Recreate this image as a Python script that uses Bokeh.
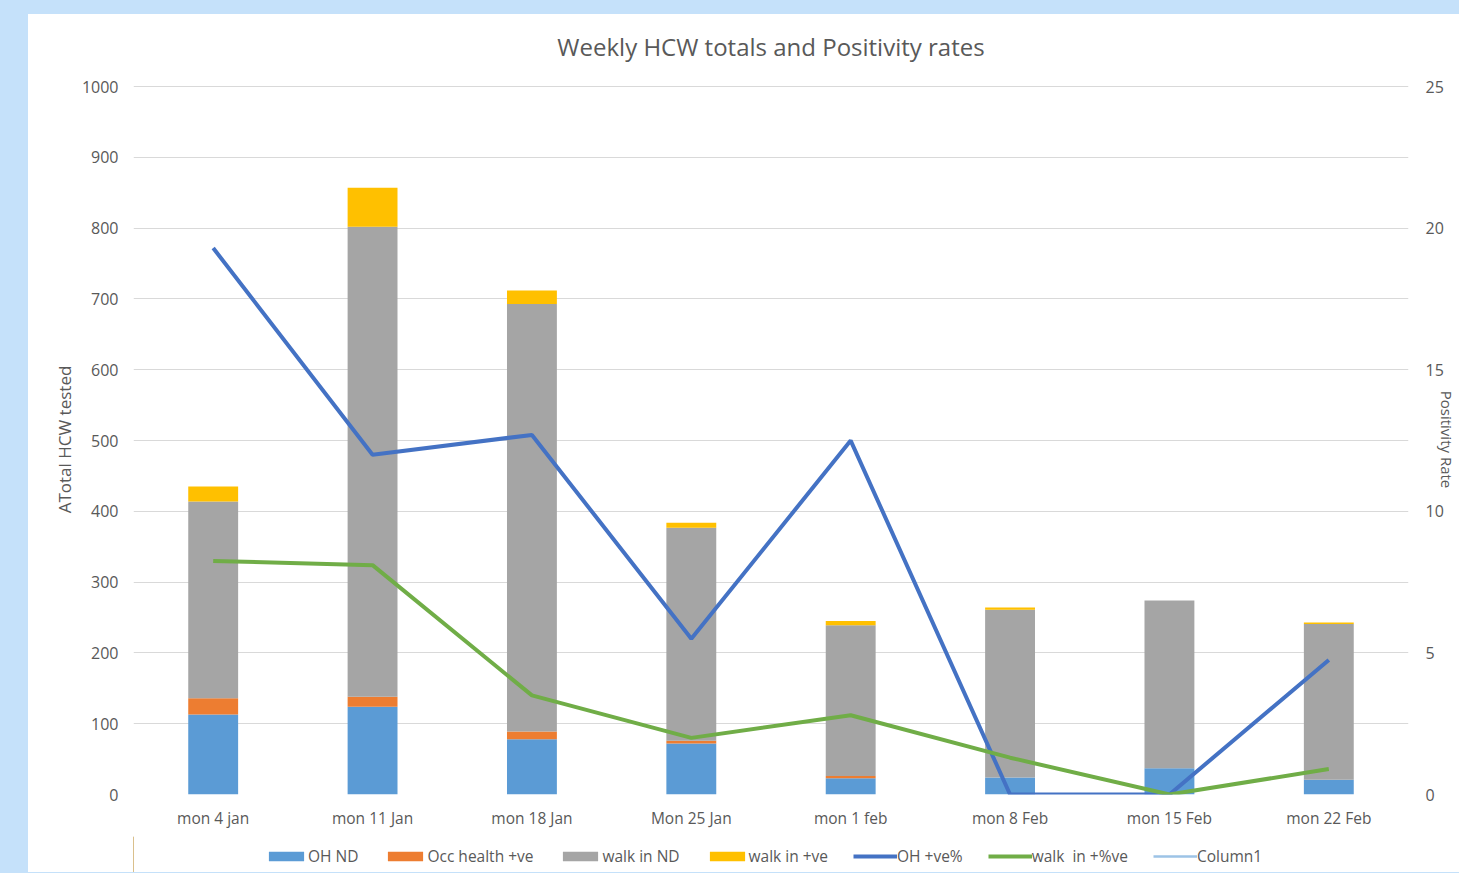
from bokeh.plotting import figure
from bokeh.models import (FactorRange, Range1d, LinearAxis, Legend, LegendItem,
                          ColumnDataSource, SingleIntervalTicker)
from bokeh.layouts import column
from bokeh.embed import file_html
from bokeh.resources import INLINE

weeks = ["mon 4 jan", "mon 11 Jan", "mon 18 Jan", "Mon 25 Jan",
         "mon 1 feb", "mon 8 Feb", "mon 15 Feb", "mon 22 Feb"]
oh_nd = [113, 124, 78, 72, 23, 24, 37, 21]
occ_pos = [23, 14, 11, 4, 3, 0, 0, 0]
walk_nd = [278, 664, 604, 301, 213, 237, 237, 220]
walk_pos = [21, 55, 19, 7, 6, 3, 0, 2]
oh_pct = [19.3, 12.0, 12.7, 5.5, 12.5, 0.0, 0.0, 4.75]
walk_pct = [8.25, 8.1, 3.5, 2.0, 2.8, 1.3, 0.0, 0.9]

stack_keys = ["oh_nd", "occ_pos", "walk_nd", "walk_pos"]
stack_names = ["OH ND", "Occ health +ve", "walk in ND", "walk in +ve"]
stack_colors = ["#5b9bd5", "#ed7d31", "#a5a5a5", "#ffc000"]
line_names = ["OH +ve%", "walk  in +%ve", "Column1"]
line_colors = ["#4472c4", "#70ad47", "#9dc3e6"]
line_widths = [4, 4, 2.5]

FONT = "Open Sans"
TXT = "#595959"
PAGE_BG = "#c5e1fa"
BAND = {"background-color": "white",
        "background-image": f"linear-gradient(to bottom, {PAGE_BG} 0px, {PAGE_BG} 8px, white 8px, white 100%)"}

src = ColumnDataSource(dict(weeks=weeks, oh_nd=oh_nd, occ_pos=occ_pos,
                            walk_nd=walk_nd, walk_pos=walk_pos,
                            oh_pct=oh_pct, walk_pct=walk_pct))

# ---------------- main chart ----------------
p = figure(width=1431, height=830, output_backend="svg", toolbar_location=None,
           x_range=FactorRange(*weeks, range_padding=0),
           y_range=Range1d(0, 1003),
           min_border_left=105, min_border_right=49,
           min_border_top=78, min_border_bottom=42,
           title="Weekly HCW totals and Positivity rates")
p.extra_y_ranges = {"right": Range1d(0, 25.075)}
p.styles = BAND

p.background_fill_color = "white"
p.border_fill_color = None
p.outline_line_color = None

p.title.align = "center"
p.title.offset = -8
p.title.text_font = FONT
p.title.text_font_style = "normal"
p.title.text_font_size = "24px"
p.title.text_color = TXT
p.title.standoff = 43

p.vbar_stack(stack_keys, x="weeks", width=0.313, source=src,
             color=stack_colors, line_color=None)

p.line("weeks", "oh_pct", source=src, y_range_name="right",
       line_color=line_colors[0], line_width=line_widths[0])
p.line("weeks", "walk_pct", source=src, y_range_name="right",
       line_color=line_colors[1], line_width=line_widths[1])

p.xgrid.grid_line_color = None
p.ygrid.grid_line_color = "#d9d9d9"
p.ygrid.grid_line_width = 1
p.yaxis.ticker = SingleIntervalTicker(interval=100)

for ax in [p.xaxis[0], p.yaxis[0]]:
    ax.axis_line_color = None
    ax.major_tick_line_color = None
    ax.minor_tick_line_color = None
    ax.major_label_text_font = FONT
    ax.major_label_text_color = TXT

p.xaxis.major_label_text_font_size = "15.5px"
p.yaxis.major_label_text_font_size = "16px"
p.xaxis.major_label_standoff = 6
p.yaxis.major_label_standoff = 9
p.yaxis.axis_label = "ATotal HCW tested"
p.yaxis.axis_label_text_font = FONT
p.yaxis.axis_label_text_font_style = "normal"
p.yaxis.axis_label_text_font_size = "17px"
p.yaxis.axis_label_text_color = TXT
p.yaxis.axis_label_standoff = 3

ry = LinearAxis(y_range_name="right", ticker=SingleIntervalTicker(interval=5))
ry.axis_line_color = None
ry.major_tick_line_color = None
ry.minor_tick_line_color = None
ry.major_label_text_font = FONT
ry.major_label_text_font_size = "16px"
ry.major_label_text_color = TXT
ry.major_label_standoff = 11
ry.axis_label = "Positivity Rate"
ry.axis_label_text_font = FONT
ry.axis_label_text_font_style = "normal"
ry.axis_label_text_font_size = "15px"
ry.axis_label_text_color = TXT
ry.axis_label_standoff = -10
p.add_layout(ry, "right")

# ---------------- legend strip ----------------
lf = figure(width=1431, height=36, output_backend="svg", toolbar_location=None,
            x_range=Range1d(0, 1), y_range=Range1d(0, 1),
            min_border=0, x_axis_type=None, y_axis_type=None)
lf.styles = {"background-color": "white"}
lf.background_fill_color = None
lf.border_fill_color = None
lf.outline_line_color = None
lf.center = []

items = []
for n, c in zip(stack_names, stack_colors):
    r = lf.vbar(x=[-5], top=[1], width=0.1, color=c, line_color=None)
    items.append(LegendItem(label=n, renderers=[r]))
for n, c, w in zip(line_names, line_colors, line_widths):
    r = lf.line(x=[-5, -4], y=[0, 0], line_color=c, line_width=w)
    items.append(LegendItem(label=n, renderers=[r]))

leg = Legend(items=items, orientation="horizontal", location=(131, 5),
             glyph_width=44, glyph_height=12, label_text_font=FONT,
             label_text_font_size="15.5px", label_text_color=TXT,
             label_standoff=0, spacing=25, padding=4, margin=0,
             label_height=20,
             border_line_color=None, background_fill_alpha=0)
lf.add_layout(leg, "center")

layout = column(p, lf, spacing=0)
layout.styles = BAND

html = file_html(layout, INLINE)
html = html.replace("</head>",
                    f"<style>html,body{{background:{PAGE_BG};margin:0;}}"
                    "body{padding:6px 0 0 28px;}</style></head>", 1)
open("out.html", "w").write(html)
